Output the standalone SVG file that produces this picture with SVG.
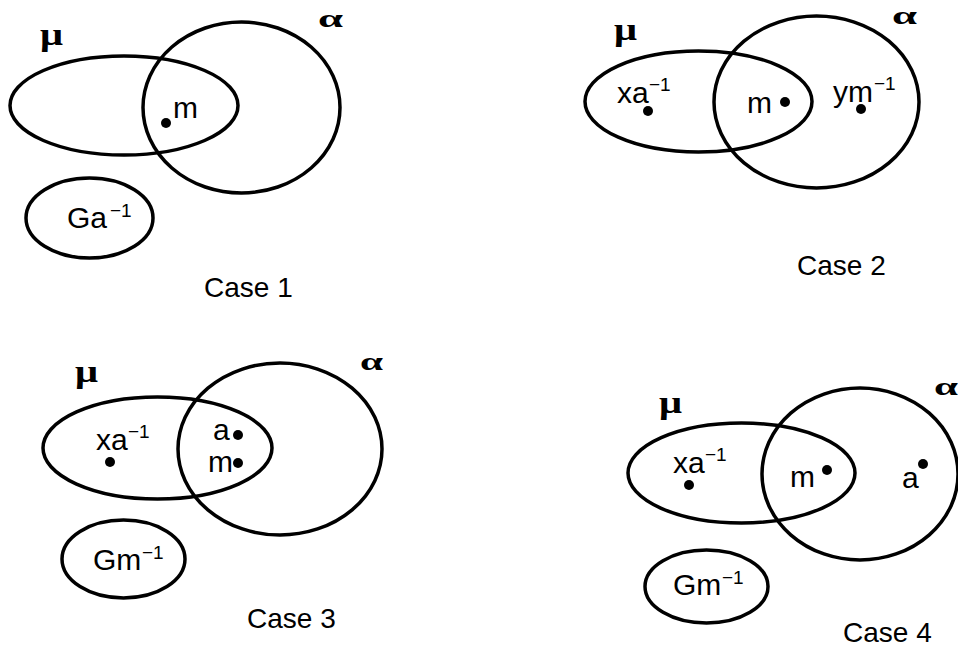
<svg xmlns="http://www.w3.org/2000/svg" width="958" height="651" viewBox="0 0 958 651">
<style>
.sh{fill:none;stroke:#000;stroke-width:3.5}
.dot{fill:#000}
.t{font-family:"Liberation Sans",Arial,sans-serif;font-size:30px;fill:#000}
.sup{font-family:"Liberation Sans",Arial,sans-serif;font-size:19px;fill:#000}
.cap{font-family:"Liberation Sans",Arial,sans-serif;font-size:28px;fill:#000}
.g{font-family:"Liberation Serif","Times New Roman",serif;font-weight:bold;font-size:32px;fill:#000}
.a{font-family:"Liberation Serif","Times New Roman",serif;font-weight:bold;font-size:26px;fill:#000}
</style>
<rect width="958" height="651" fill="#fff"/>

<!-- Case 1 -->
<g id="case1">
  <g id="c1-mu"><ellipse class="sh" cx="124" cy="105.5" rx="114" ry="49.5"/>
    <text class="g" x="40" y="45" textLength="23" lengthAdjust="spacingAndGlyphs">μ</text></g>
  <g id="c1-alpha"><ellipse class="sh" cx="241.5" cy="107.5" rx="98.5" ry="85.5"/>
    <text class="a" x="318" y="27" textLength="25" lengthAdjust="spacingAndGlyphs">α</text></g>
  <g id="c1-m"><circle class="dot" cx="166" cy="123" r="5"/><text class="t" x="173" y="118">m</text></g>
  <g id="c1-G"><ellipse class="sh" cx="89.5" cy="218" rx="63.5" ry="40"/>
    <text class="t" x="67" y="228">Ga</text><text class="sup" x="110" y="217">−1</text></g>
  <text class="cap" x="204" y="297">Case 1</text>
</g>

<!-- Case 2 -->
<g id="case2">
  <g id="c2-mu"><ellipse class="sh" cx="698.5" cy="101.5" rx="113.5" ry="50.5"/>
    <text class="g" x="614" y="40" textLength="23" lengthAdjust="spacingAndGlyphs">μ</text></g>
  <g id="c2-alpha"><ellipse class="sh" cx="816.5" cy="102" rx="102.5" ry="86"/>
    <text class="a" x="892" y="24" textLength="25" lengthAdjust="spacingAndGlyphs">α</text></g>
  <g id="c2-xa"><circle class="dot" cx="648" cy="111" r="5"/>
    <text class="t" x="617" y="103">xa</text><text class="sup" x="649" y="91">−1</text></g>
  <g id="c2-m"><circle class="dot" cx="785" cy="102" r="5"/><text class="t" x="747" y="113">m</text></g>
  <g id="c2-ym"><circle class="dot" cx="861" cy="109" r="5"/>
    <text class="t" x="833" y="102">ym</text><text class="sup" x="874" y="90">−1</text></g>
  <text class="cap" x="797" y="275">Case 2</text>
</g>

<!-- Case 3 -->
<g id="case3">
  <g id="c3-mu"><ellipse class="sh" cx="157.5" cy="448" rx="114.5" ry="51"/>
    <text class="g" x="75" y="382" textLength="23" lengthAdjust="spacingAndGlyphs">μ</text></g>
  <g id="c3-alpha"><ellipse class="sh" cx="280" cy="449" rx="102" ry="86"/>
    <text class="a" x="360" y="370" textLength="23" lengthAdjust="spacingAndGlyphs">α</text></g>
  <g id="c3-xa"><circle class="dot" cx="110" cy="462" r="5"/>
    <text class="t" x="96" y="450">xa</text><text class="sup" x="128" y="438">−1</text></g>
  <g id="c3-a"><circle class="dot" cx="238" cy="435" r="5"/><text class="t" x="213" y="440">a</text></g>
  <g id="c3-m"><circle class="dot" cx="238" cy="463" r="5"/><text class="t" x="208" y="472">m</text></g>
  <g id="c3-G"><ellipse class="sh" cx="123.5" cy="559" rx="61.5" ry="39"/>
    <text class="t" x="93" y="570">Gm</text><text class="sup" x="142" y="559">−1</text></g>
  <text class="cap" x="247" y="628">Case 3</text>
</g>

<!-- Case 4 -->
<g id="case4">
  <g id="c4-mu"><ellipse class="sh" cx="741.5" cy="473" rx="113.5" ry="50"/>
    <text class="g" x="659" y="413" textLength="23" lengthAdjust="spacingAndGlyphs">μ</text></g>
  <g id="c4-alpha"><ellipse class="sh" cx="860" cy="474" rx="98" ry="86"/>
    <text class="a" x="934" y="395" textLength="24" lengthAdjust="spacingAndGlyphs">α</text></g>
  <g id="c4-xa"><circle class="dot" cx="689" cy="485" r="5"/>
    <text class="t" x="673" y="473">xa</text><text class="sup" x="705" y="461">−1</text></g>
  <g id="c4-m"><circle class="dot" cx="827" cy="470" r="5"/><text class="t" x="790" y="487">m</text></g>
  <g id="c4-a"><circle class="dot" cx="923" cy="464" r="5"/><text class="t" x="902" y="488">a</text></g>
  <g id="c4-G"><ellipse class="sh" cx="706.5" cy="586.5" rx="61.5" ry="36.5"/>
    <text class="t" x="673" y="595">Gm</text><text class="sup" x="722" y="584">−1</text></g>
  <text class="cap" x="843" y="642">Case 4</text>
</g>
<g id="connectors"/>
</svg>
